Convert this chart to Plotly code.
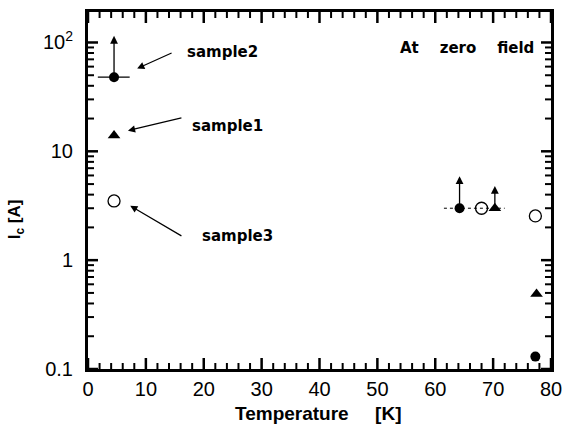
import numpy as np
import plotly.graph_objects as go

# ---- data ----
s1_T = [4.5, 70.3, 77.5]
s1_Ic = [14.0, 3.0, 0.49]
s2_T = [4.5, 64.2, 77.3]
s2_Ic = [48.0, 3.0, 0.13]
s3_T = [4.5, 68.0, 77.3]
s3_Ic = [3.5, 3.0, 2.55]

# horizontal uncertainty on sample2 at 4.5 K
s2_err_minus = [2.8, 0, 0]
s2_err_plus = [2.7, 0, 0]

# dashed range around the ~3 A points
dash_T = [61.5, 72.0]
dash_Ic = [3.0, 3.0]

# lower-bound arrows: (T, from Ic, to Ic)
arrow_T = [4.5, 64.2, 70.3]
arrow_from = [48.0, 3.0, 3.0]
arrow_to = [115.0, 5.9, 4.8]

ytick_vals = [0.1, 1, 10, 100]
ytick_text = ["0.1", "1", "10", "10<sup>2</sup>"]
xtick_vals = [0, 10, 20, 30, 40, 50, 60, 70, 80]

X_RANGE = [0, 80]
Y_RANGE_LOG = [-1, 2.28]

fig = go.Figure()

fig.add_trace(go.Scatter(x=dash_T, y=dash_Ic, mode="lines",
                         line=dict(color="black", width=1, dash="dot"),
                         showlegend=False, hoverinfo="skip"))

fig.add_trace(go.Scatter(x=s2_T, y=s2_Ic, mode="markers", name="sample2",
                         marker=dict(symbol="circle", size=10, color="black"),
                         error_x=dict(type="data", symmetric=False,
                                      array=s2_err_plus, arrayminus=s2_err_minus,
                                      color="black", thickness=1.2, width=0),
                         showlegend=False))
fig.add_trace(go.Scatter(x=s1_T, y=s1_Ic, mode="markers", name="sample1",
                         marker=dict(symbol="triangle-up", size=11, color="black"),
                         showlegend=False))
fig.add_trace(go.Scatter(x=s3_T, y=s3_Ic, mode="markers", name="sample3",
                         marker=dict(symbol="circle-open", size=12, color="black",
                                     line=dict(width=1.3, color="black")),
                         showlegend=False))

annotations = []
for t, a, b in zip(arrow_T, arrow_from, arrow_to):
    annotations.append(dict(x=t, y=np.log10(b), ax=t, ay=np.log10(a),
                            xref="x", yref="y", axref="x", ayref="y",
                            text="", showarrow=True, arrowhead=2,
                            arrowsize=1.2, arrowwidth=1.3, arrowcolor="black"))

# label arrows: (head T, head log Ic, tail T, tail log Ic)
label_arrows = [(8.5, 1.76, 14.7, 1.91), (6.9, 1.19, 16.4, 1.31), (7.3, 0.50, 16.4, 0.215)]
for hx, hy, tx, ty in label_arrows:
    annotations.append(dict(x=hx, y=hy, ax=tx, ay=ty, xref="x", yref="y",
                            axref="x", ayref="y", text="", showarrow=True,
                            arrowhead=2, arrowsize=1.2, arrowwidth=1.2,
                            arrowcolor="black"))

lab_font = dict(family="DejaVu Sans", size=15, color="black")
for txt, tx, ty in [("<b>sample2</b>", 16.8, 1.91), ("<b>sample1</b>", 17.6, 1.236),
                    ("<b>sample3</b>", 19.3, 0.224),
                    ("<b>At&nbsp;&nbsp;&nbsp;&nbsp;zero&nbsp;&nbsp;&nbsp;&nbsp;field</b>", 53.5, 1.945)]:
    annotations.append(dict(x=tx, y=ty, xref="x", yref="y", text=txt,
                            showarrow=False, xanchor="left", yanchor="middle",
                            font=lab_font))

annotations.append(dict(x=0.497, y=-0.09, xref="paper", yref="paper",
                        text="<b>Temperature&nbsp;&nbsp;&nbsp;&nbsp;&nbsp;[K]</b>",
                        showarrow=False, xanchor="center", yanchor="top",
                        font=dict(family="Liberation Sans, Arial", size=19, color="black")))
annotations.append(dict(x=-0.155, y=0.42, xref="paper", yref="paper",
                        text="<b>I<sub>c</sub> [A]</b>", textangle=-90,
                        showarrow=False, xanchor="center", yanchor="middle",
                        font=dict(family="Liberation Sans, Arial", size=17, color="black")))

# ---- axis tick marks (inside, on all four sides) drawn as pixel-sized shapes ----
shapes = []
def xtick(t, length, width):
    frac = (t - X_RANGE[0]) / (X_RANGE[1] - X_RANGE[0])
    for anchor, sign in ((0, 1), (1, -1)):
        shapes.append(dict(type="line", xref="x domain", yref="y domain",
                           x0=frac, x1=frac, ysizemode="pixel", yanchor=anchor,
                           y0=0, y1=sign * length, layer="above",
                           line=dict(color="black", width=width)))

def ytick(v, length, width):
    frac = (np.log10(v) - Y_RANGE_LOG[0]) / (Y_RANGE_LOG[1] - Y_RANGE_LOG[0])
    if frac < 0 or frac > 1:
        return
    for anchor, sign in ((0, 1), (1, -1)):
        shapes.append(dict(type="line", xref="x domain", yref="y domain",
                           y0=frac, y1=frac, xsizemode="pixel", xanchor=anchor,
                           x0=0, x1=sign * length, layer="above",
                           line=dict(color="black", width=width)))

for t in range(0, 81, 2):
    if t % 10 == 0:
        xtick(t, 11, 2.5)
    else:
        xtick(t, 6, 2)
for e in range(-1, 3):
    for m in range(1, 10):
        v = m * 10.0 ** e
        if m == 1:
            ytick(v, 10, 2.5)
        else:
            ytick(v, 6, 2)

fig.update_layout(
    width=566, height=432,
    margin=dict(l=88, r=15, t=12, b=63),
    template="none",
    paper_bgcolor="white", plot_bgcolor="white",
    font=dict(family="Liberation Sans, Arial", size=20, color="black"),
    annotations=annotations,
    shapes=shapes,
)
fig.update_xaxes(range=X_RANGE, tickvals=xtick_vals, ticks="",
                 showline=True, linewidth=3, ticklabelstandoff=0,
                 linecolor="black", mirror=True, showgrid=False, zeroline=False)
fig.update_yaxes(type="log", range=Y_RANGE_LOG, tickvals=ytick_vals, ticktext=ytick_text,
                 ticks="", showline=True, linewidth=3, linecolor="black", mirror=True,
                 ticklabelstandoff=8, showgrid=False, zeroline=False)

fig.write_html("out.html")
